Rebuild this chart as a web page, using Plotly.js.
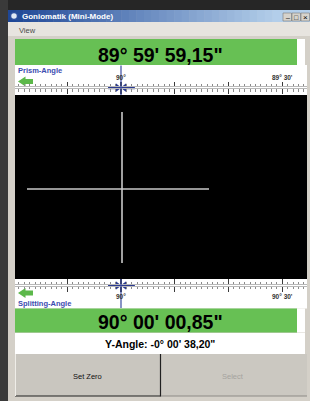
<!DOCTYPE html>
<html><head><meta charset="utf-8">
<script src="https://cdn.plot.ly/plotly-3.0.1.min.js"></script>
<style>html,body{margin:0;padding:0;background:#d4d0c8;overflow:hidden}#chart{width:310px;height:401px}</style>
</head><body><div id="chart"></div>
<script>
// ---------- data ----------
const windowTitle = "Goniomatik (Mini-Mode)";
const menuItems = ["View"];
const prismReading = "89° 59' 59,15\"";
const splitReading = "90° 00' 00,85\"";
const yAngleReading = "Y-Angle: -0° 00' 38,20\"";
const prismName = "Prism-Angle";
const splitName = "Splitting-Angle";
// scale values in arc minutes relative to 90°
const prismLabelVals = [0, -30];
const prismLabelText = ["90°", "89° 30'"];
const splitLabelVals = [0, 30];
const splitLabelText = ["90°", "90° 30'"];
const prismMarker = 0;
const splitMarker = 0;
// blue pointer arrows (arc minutes): shaft centres and heads
const prismShafts = [1.5, -1.67];
const prismHeads = [0.62, -0.62];
const splitShafts = [-1.5, 1.67];
const splitHeads = [-0.62, 0.62];
// crosshair in the image field
const crossHX = [-94, 88];
const crossHY = [0, 0];
const crossVX = [1, 1];
const crossVY = [77, -74];
const buttons = ["Set Zero", "Select"];

// ---------- helpers ----------
const W = 310, H = 401;
const px = x => x / W;
const py = y => 1 - y / H;
const shapes = [];
function R(x0, y0, x1, y1, fill, line) {
  shapes.push({type: 'rect', xref: 'paper', yref: 'paper', x0: px(x0), x1: px(x1), y0: py(y1), y1: py(y0),
    fillcolor: fill, line: line || {width: 0}, layer: 'below'});
}
function L(x0, y0, x1, y1, color, w) {
  shapes.push({type: 'line', xref: 'paper', yref: 'paper', x0: px(x0), x1: px(x1), y0: py(y0), y1: py(y1),
    line: {color: color, width: w || 1}, layer: 'below'});
}
function P(pts, fill) {
  let d = pts.map((p, i) => (i ? 'L' : 'M') + px(p[0]).toFixed(5) + ',' + py(p[1]).toFixed(5)).join(' ') + ' Z';
  shapes.push({type: 'path', xref: 'paper', yref: 'paper', path: d, fillcolor: fill, line: {width: 0}, layer: 'below'});
}
function mix(a, b, t) {
  const ca = [parseInt(a.slice(1,3),16), parseInt(a.slice(3,5),16), parseInt(a.slice(5,7),16)];
  const cb = [parseInt(b.slice(1,3),16), parseInt(b.slice(3,5),16), parseInt(b.slice(5,7),16)];
  return 'rgb(' + ca.map((v, i) => Math.round(v + (cb[i] - v) * t)).join(',') + ')';
}

// ---------- window chrome ----------
R(0, 0, 310, 10, '#262626');
R(0, 0, 8, 401, '#3a3a3a');
const N = 40;
for (let i = 0; i < N; i++) {
  const x0 = 8 + (302 / N) * i, x1 = 8 + (302 / N) * (i + 1) + 0.5;
  R(x0, 10, x1, 22, mix('#1f4796', '#b4cfea', Math.min(1, i / (N * 0.88))));
}
shapes.push({type: 'circle', xref: 'paper', yref: 'paper', x0: px(10.5), x1: px(17.5), y0: py(19.5), y1: py(12.5),
  fillcolor: '#dfe8f5', line: {color: '#2c4f9e', width: 1.5}, layer: 'below'});
[[283, '_'], [292, '□'], [301, '×']].forEach(b => {
  R(b[0], 13, b[0] + 8.5, 21, '#d6d3cc', {color: '#7a7a7a', width: 0.6});
});
R(8, 22, 310, 36, '#e7e4df');
const green = '#67c054';
R(15, 39, 297, 65, green);
R(297, 39, 305, 65, '#ffffff');
R(15, 65, 307, 95, '#ffffff');
R(15, 95, 307, 279, '#000000');
R(15, 279, 307, 308.5, '#ffffff');
R(15, 308.5, 297, 332.5, green);
R(297, 308.5, 305, 332.5, '#ffffff');
R(15, 333, 305, 354, '#ffffff');
R(15, 354, 160, 396, '#c9c6bf');
R(161, 354, 307, 396, '#cbc8c1');
L(160.5, 354, 160.5, 396.5, '#202020', 1.2);
L(15, 396, 160.5, 396, '#202020', 1.2);
L(15.5, 354, 15.5, 396, '#efede8', 1);
L(161, 396, 307, 396, '#8c8a85', 1);
function greenArrow(cy) {
  P([[18, cy], [25.5, cy - 5], [25.5, cy - 2.4], [33, cy - 2.4], [33, cy + 2.4], [25.5, cy + 2.4], [25.5, cy + 5]], '#5cb84a');
}
greenArrow(81.5);
greenArrow(293);

// ---------- scale marker lines (data-positioned) ----------
shapes.push({type: 'line', xref: 'x2', yref: 'paper', x0: prismMarker, x1: prismMarker, y0: py(95), y1: py(65.5),
  line: {color: '#3a4aa0', width: 1.2}});
shapes.push({type: 'line', xref: 'x4', yref: 'paper', x0: splitMarker, x1: splitMarker, y0: py(308), y1: py(279),
  line: {color: '#3a4aa0', width: 1.2}});

// ---------- axes ----------
const xDom = [px(15), px(307)];
const minPerPx = 1 / 5.375;
const leftMin = (121 - 15) * minPerPx, rightMin = (307 - 121) * minPerPx;
const prismRange = [leftMin, -rightMin];
const splitRange = [-leftMin, rightMin];
function tickAxis(range, anchor, overlay, dtick, len, color, width, minor) {
  const a = {domain: xDom, range: range, anchor: anchor, tick0: 0, dtick: dtick, ticks: 'outside',
    ticklen: len, tickcolor: color, tickwidth: width, showticklabels: false, showgrid: false,
    zeroline: false, mirror: 'ticks', showline: !overlay, linecolor: '#b8b8b8', linewidth: 1, fixedrange: true};
  if (overlay) a.overlaying = overlay;
  if (minor) a.minor = {tick0: 0, dtick: 1, ticks: 'outside', ticklen: 2.6, tickcolor: '#8a8a8a', tickwidth: 1, showgrid: false};
  return a;
}
const thinY = (y) => ({domain: [py(y + 0.3), py(y - 0.3)], range: [0, 1], visible: false, fixedrange: true});

// ---------- traces ----------
const navy = '#2b3a90';
function pointer(shafts, heads, xa, ya) {
  return [
    {x: shafts, y: [0.5, 0.5], xaxis: xa, yaxis: ya, mode: 'markers', cliponaxis: false, hoverinfo: 'skip',
      marker: {symbol: 'line-ew', size: 7, line: {color: navy, width: 3}}},
    {x: heads, y: [0.5, 0.5], xaxis: xa, yaxis: ya, mode: 'markers', cliponaxis: false, hoverinfo: 'skip',
      marker: {symbol: ['triangle-right', 'triangle-left'], size: 7.5, color: navy}}
  ];
}
const traces = [
  {x: crossHX, y: crossHY, xaxis: 'x', yaxis: 'y', mode: 'lines', line: {color: '#c9c9c9', width: 1.6}, hoverinfo: 'skip'},
  {x: crossVX, y: crossVY, xaxis: 'x', yaxis: 'y', mode: 'lines', line: {color: '#c9c9c9', width: 1.6}, hoverinfo: 'skip'}
].concat(pointer(prismShafts, prismHeads, 'x2', 'y2'), pointer(splitShafts, splitHeads, 'x4', 'y3'));

// ---------- annotations ----------
const F = 'Liberation Sans, Arial, sans-serif';
const ann = [];
function T(text, x, y, size, color, opts) {
  ann.push(Object.assign({text: text, xref: 'paper', yref: 'paper', x: px(x), y: py(y), showarrow: false,
    xanchor: 'center', yanchor: 'middle', font: {family: F, size: size, color: color}}, opts || {}));
}
T('<b>' + windowTitle + '</b>', 20, 16.5, 8, '#ffffff', {xanchor: 'left'});
T('_', 287.2, 15.5, 7, '#000');
T('□', 296.2, 17, 7, '#000');
T('×', 305.2, 17, 8, '#000');
T(menuItems[0], 16.5, 31, 7.5, '#4a4a4a', {xanchor: 'left'});
T('<b>' + prismReading + '</b>', 160, 55.5, 19.5, '#000000');
T('<b>' + splitReading + '</b>', 160, 322, 19.5, '#000000');
T('<b>' + yAngleReading + '</b>', 159.5, 343.5, 10.5, '#000000');
T('<b>' + prismName + '</b>', 16, 70.5, 7.5, '#3a4cb0', {xanchor: 'left'});
T('<b>' + splitName + '</b>', 16, 303, 7.5, '#3a4cb0', {xanchor: 'left'});
T(buttons[0], 87.5, 376, 7.5, '#111111');
T(buttons[1], 233.5, 376, 7.5, '#a5a39e');
prismLabelVals.forEach((v, i) => ann.push({text: '<b>' + prismLabelText[i] + '</b>', xref: 'x2', yref: 'paper', x: v, y: py(77),
  showarrow: false, xanchor: 'center', yanchor: 'middle', font: {family: F, size: 6.5, color: '#333'}}));
splitLabelVals.forEach((v, i) => ann.push({text: '<b>' + splitLabelText[i] + '</b>', xref: 'x4', yref: 'paper', x: v, y: py(296.5),
  showarrow: false, xanchor: 'center', yanchor: 'middle', font: {family: F, size: 6.5, color: '#333'}}));

const layout = {
  width: W, height: H, margin: {l: 0, r: 0, t: 0, b: 0, pad: 0},
  paper_bgcolor: '#d4d0c8', plot_bgcolor: 'rgba(0,0,0,0)', showlegend: false,
  xaxis: {domain: xDom, range: [-106, 186], visible: false, anchor: 'y', fixedrange: true},
  yaxis: {domain: [py(278.5), py(95)], range: [-89.5, 94], visible: false, anchor: 'x', fixedrange: true},
  xaxis2: tickAxis(prismRange, 'y2', null, 10, 4.8, '#3a3a3a', 1.3, true),
  xaxis3: tickAxis(prismRange, 'y2', 'x2', 5, 3.6, '#8a8a8a', 1, false),
  yaxis2: thinY(87.7),
  xaxis4: tickAxis(splitRange, 'y3', null, 10, 4.8, '#3a3a3a', 1.3, true),
  xaxis5: tickAxis(splitRange, 'y3', 'x4', 5, 3.6, '#8a8a8a', 1, false),
  yaxis3: thinY(285.5),
  shapes: shapes, annotations: ann
};
Plotly.newPlot('chart', traces, layout, {displayModeBar: false, staticPlot: true});
</script></body></html>
